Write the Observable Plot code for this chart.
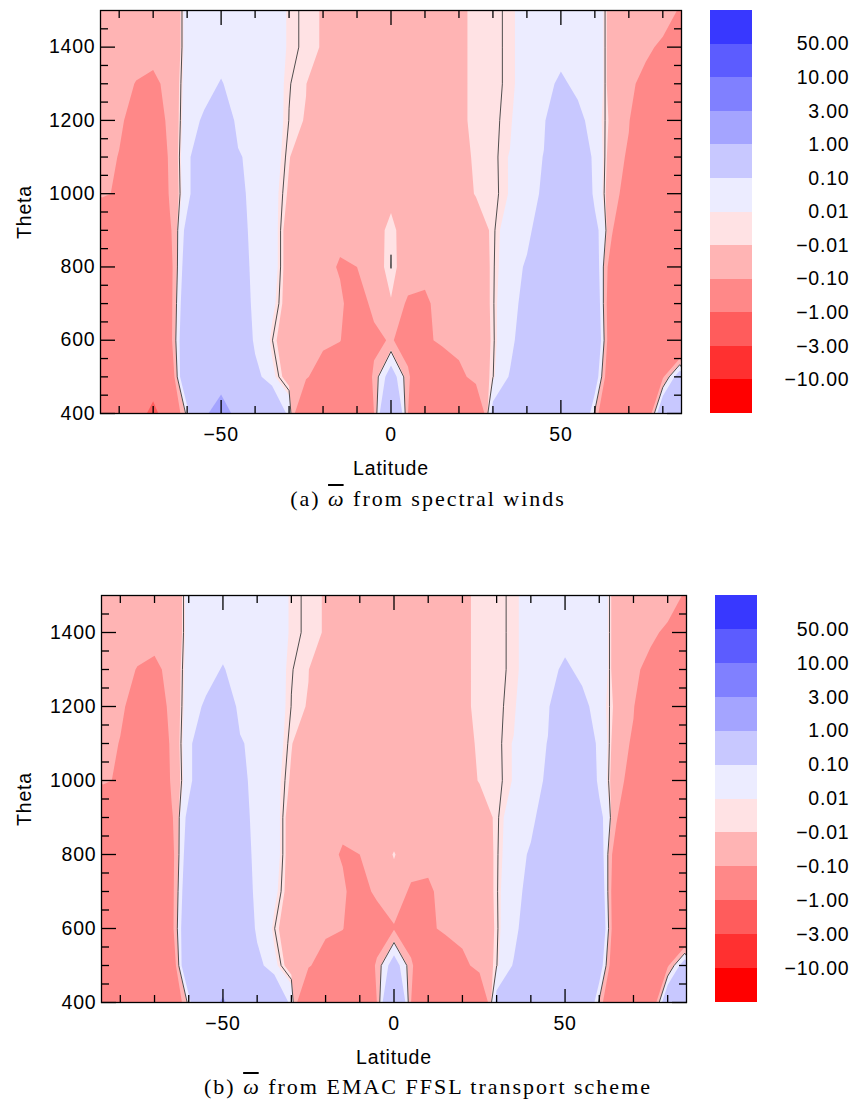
<!DOCTYPE html>
<html>
<head>
<meta charset="utf-8">
<script src="https://cdn.jsdelivr.net/npm/d3@7"></script>
<script src="https://cdn.jsdelivr.net/npm/@observablehq/plot@0.6"></script>
<style>
  html, body { margin: 0; padding: 0; background: #fff; }
  body { width: 856px; height: 1102px; position: relative; overflow: hidden; }
  .box { position: absolute; }
  .cap { position: absolute; left: 0; width: 856px; text-align: center; font-family: "Liberation Serif", "Times New Roman", serif; font-size: 22px; letter-spacing: 2px; line-height: 24px; color: #000; }
  .om { font-style: italic; text-decoration: overline; letter-spacing: 0; margin-right: 2px; }
</style>
</head>
<body>
<div id="plotA" class="box" style="left:0;top:0"></div>
<div id="barA" class="box" style="left:700px;top:0"></div>
<div class="cap" style="top:487px">(a) <span class="om">ω</span> from spectral winds</div>
<div id="plotB" class="box" style="left:0;top:585px"></div>
<div id="barB" class="box" style="left:700px;top:585px"></div>
<div class="cap" style="top:1075px">(b) <span class="om">ω</span> from EMAC FFSL transport scheme</div>
<script>
// ---------- data ----------
const latitudes = [-85,-80,-75,-70,-65,-60,-55,-50,-45,-40,-35,-30,-25,-20,-15,-10,-5,0,5,10,15,20,25,30,35,40,45,50,55,60,65,70,75,80,85];
const thetaLevels = [1500,1400,1300,1200,1100,1000,900,800,700,600,500,400];

// (a) omega from spectral winds, one row per theta level (top to bottom), columns = latitudes
const omegaSpectral = [
  [-0.05,-0.05,-0.05,-0.05,-0.08,0.035,0.04,0.04,0.04,0.04,0.04,0.004,-0.003,-0.012,-0.04,-0.04,-0.04,-0.04,-0.04,-0.04,-0.04,-0.015,-0.005,-0.002,0.0016,0.03,0.04,0.04,0.04,0.06,-0.04,-0.05,-0.05,-0.05,-0.11],
  [-0.05,-0.05,-0.05,-0.05,-0.08,0.035,0.04,0.04,0.04,0.04,0.04,0.004,-0.003,-0.012,-0.04,-0.04,-0.04,-0.04,-0.04,-0.04,-0.04,-0.015,-0.005,-0.002,0.0016,0.03,0.04,0.04,0.04,0.06,-0.04,-0.05,-0.08,-0.12,-0.3],
  [-0.06,-0.06,-0.105,-0.13,-0.06,0.035,0.05,0.11,0.04,0.04,0.03,0.001,-0.009,-0.05,-0.04,-0.04,-0.04,-0.04,-0.04,-0.04,-0.04,-0.015,-0.005,-0.002,0.0016,0.03,0.05,0.13,0.06,0.06,-0.04,-0.08,-0.13,-0.3,-0.4],
  [-0.05,-0.08,-0.15,-0.2,-0.06,0.04,0.12,0.3,0.04,0.04,0.03,-0.0005,-0.012,-0.04,-0.04,-0.04,-0.04,-0.04,-0.04,-0.04,-0.04,-0.015,-0.005,-0.002,0.003,0.06,0.08,0.3,0.15,0.03,-0.02,-0.09,-0.3,-0.35,-0.4],
  [-0.06,-0.105,-0.35,-0.35,-0.06,0.05,0.3,0.4,0.12,0.04,0.03,-0.008,-0.04,-0.04,-0.04,-0.04,-0.04,-0.04,-0.04,-0.04,-0.04,-0.02,-0.006,-0.005,0.012,0.04,0.105,0.4,0.3,0.05,-0.035,-0.12,-0.35,-0.4,-0.4],
  [-0.07,-0.13,-0.4,-0.4,-0.07,0.05,0.3,0.4,0.15,0.04,0.025,-0.015,-0.04,-0.04,-0.04,-0.04,-0.03,-0.02,-0.03,-0.04,-0.04,-0.025,-0.008,-0.006,0.012,0.05,0.12,0.4,0.35,0.06,-0.05,-0.16,-0.4,-0.4,-0.4],
  [-0.35,-0.4,-0.4,-0.4,-0.12,0.15,0.4,0.45,0.18,0.04,0.03,-0.03,-0.04,-0.05,-0.06,-0.05,-0.025,-0.001,-0.03,-0.04,-0.04,-0.04,-0.03,-0.004,0.03,0.06,0.2,0.4,0.4,0.15,-0.08,-0.4,-0.4,-0.4,-0.4],
  [-0.4,-0.4,-0.4,-0.4,-0.15,0.2,0.4,0.45,0.2,0.05,0.03,-0.03,-0.05,-0.05,-0.115,-0.1,-0.025,0.0005,-0.03,-0.05,-0.04,-0.04,-0.04,-0.003,0.035,0.12,0.4,0.4,0.4,0.2,-0.2,-0.4,-0.4,-0.4,-0.4],
  [-0.4,-0.4,-0.4,-0.4,-0.15,0.25,0.4,0.45,0.25,0.05,0.02,-0.03,-0.05,-0.05,-0.07,-0.2,-0.05,-0.012,-0.12,-0.13,-0.04,-0.04,-0.04,-0.003,0.05,0.15,0.4,0.4,0.4,0.25,-0.25,-0.4,-0.4,-0.4,-0.4],
  [-0.4,-0.4,-0.4,-0.4,-0.15,0.3,0.4,0.45,0.3,0.07,0.001,-0.04,-0.05,-0.06,-0.09,-0.3,-0.15,-0.08,-0.2,-0.15,-0.05,-0.04,-0.04,-0.005,0.06,0.2,0.4,0.4,0.4,0.3,-0.25,-0.4,-0.4,-0.4,-0.4],
  [-0.4,-0.4,-0.4,-0.4,-0.25,0.35,0.45,0.45,0.35,0.15,0.02,-0.03,-0.08,-0.2,-0.35,-0.4,-0.06,0.18,-0.06,-0.4,-0.35,-0.15,-0.04,-0.002,0.11,0.35,0.4,0.4,0.4,0.2,-0.3,-0.4,-0.4,-0.12,0.2],
  [-0.4,-0.4,-0.5,-1.3,-0.3,0.03,0.8,1.6,0.6,0.4,0.35,0.05,-0.4,-0.45,-0.5,-0.5,-0.1,0.5,-0.1,-0.5,-0.5,-0.45,-0.35,0.15,0.4,0.4,0.4,0.4,0.4,-0.02,-0.4,-0.4,-0.3,0.3,0.4]
];

// (b) omega from EMAC FFSL transport scheme
const omegaFFSL = [
  [-0.05,-0.05,-0.05,-0.05,-0.08,0.035,0.04,0.04,0.04,0.04,0.04,0.004,-0.003,-0.012,-0.04,-0.04,-0.04,-0.04,-0.04,-0.04,-0.04,-0.015,-0.005,-0.002,0.0016,0.03,0.04,0.04,0.04,0.06,-0.04,-0.05,-0.05,-0.05,-0.11],
  [-0.05,-0.05,-0.05,-0.05,-0.08,0.035,0.04,0.04,0.04,0.04,0.04,0.004,-0.003,-0.012,-0.04,-0.04,-0.04,-0.04,-0.04,-0.04,-0.04,-0.015,-0.005,-0.002,0.0016,0.03,0.04,0.04,0.04,0.06,-0.04,-0.05,-0.08,-0.12,-0.3],
  [-0.06,-0.06,-0.105,-0.13,-0.06,0.035,0.05,0.11,0.04,0.04,0.03,0.001,-0.009,-0.05,-0.04,-0.04,-0.04,-0.04,-0.04,-0.04,-0.04,-0.015,-0.005,-0.002,0.0016,0.03,0.05,0.13,0.06,0.06,-0.04,-0.08,-0.13,-0.3,-0.4],
  [-0.05,-0.08,-0.15,-0.2,-0.06,0.04,0.12,0.3,0.04,0.04,0.03,-0.0005,-0.012,-0.04,-0.04,-0.04,-0.04,-0.04,-0.04,-0.04,-0.04,-0.015,-0.005,-0.002,0.003,0.06,0.08,0.3,0.15,0.03,-0.02,-0.09,-0.3,-0.35,-0.4],
  [-0.06,-0.105,-0.35,-0.35,-0.06,0.05,0.3,0.4,0.12,0.04,0.03,-0.008,-0.04,-0.04,-0.04,-0.04,-0.04,-0.04,-0.04,-0.04,-0.04,-0.02,-0.006,-0.005,0.012,0.04,0.105,0.4,0.3,0.05,-0.035,-0.12,-0.35,-0.4,-0.4],
  [-0.07,-0.13,-0.4,-0.4,-0.07,0.05,0.3,0.4,0.15,0.04,0.025,-0.015,-0.04,-0.04,-0.04,-0.04,-0.04,-0.04,-0.04,-0.04,-0.04,-0.025,-0.008,-0.006,0.012,0.05,0.12,0.4,0.35,0.06,-0.05,-0.16,-0.4,-0.4,-0.4],
  [-0.35,-0.4,-0.4,-0.4,-0.12,0.15,0.4,0.45,0.18,0.04,0.03,-0.03,-0.04,-0.05,-0.06,-0.05,-0.04,-0.04,-0.04,-0.04,-0.04,-0.04,-0.03,-0.004,0.03,0.06,0.2,0.4,0.4,0.15,-0.08,-0.4,-0.4,-0.4,-0.4],
  [-0.4,-0.4,-0.4,-0.4,-0.15,0.2,0.4,0.45,0.2,0.05,0.03,-0.03,-0.05,-0.05,-0.115,-0.1,-0.04,-0.007,-0.04,-0.05,-0.04,-0.04,-0.04,-0.003,0.035,0.12,0.4,0.4,0.4,0.2,-0.2,-0.4,-0.4,-0.4,-0.4],
  [-0.4,-0.4,-0.4,-0.4,-0.15,0.25,0.4,0.45,0.25,0.05,0.02,-0.03,-0.05,-0.05,-0.07,-0.2,-0.05,-0.03,-0.12,-0.13,-0.04,-0.04,-0.04,-0.003,0.05,0.15,0.4,0.4,0.4,0.25,-0.25,-0.4,-0.4,-0.4,-0.4],
  [-0.4,-0.4,-0.4,-0.4,-0.15,0.3,0.4,0.45,0.3,0.07,0.001,-0.04,-0.05,-0.06,-0.09,-0.3,-0.25,-0.11,-0.25,-0.15,-0.05,-0.04,-0.04,-0.005,0.06,0.2,0.4,0.4,0.4,0.3,-0.25,-0.4,-0.4,-0.4,-0.4],
  [-0.4,-0.4,-0.4,-0.4,-0.25,0.35,0.45,0.45,0.35,0.15,0.02,-0.03,-0.08,-0.2,-0.35,-0.4,-0.06,0.18,-0.06,-0.4,-0.35,-0.15,-0.04,-0.002,0.11,0.35,0.4,0.4,0.4,0.2,-0.3,-0.4,-0.4,-0.12,0.2],
  [-0.4,-0.4,-0.5,-0.6,-0.3,0.03,0.6,1.1,0.5,0.4,0.35,0.05,-0.4,-0.45,-0.5,-0.5,-0.1,0.5,-0.1,-0.5,-0.5,-0.45,-0.35,0.15,0.4,0.4,0.4,0.4,0.4,-0.02,-0.4,-0.4,-0.3,0.3,0.4]
];

const contourLevels = [-10, -3, -1, -0.1, -0.01, 0.01, 0.1, 1, 3, 10, 50];
const bandColors = ["#ff0000","#ff3030","#ff5c5c","#ff8888","#ffb4b4","#ffe2e4","#ececff","#c8c8ff","#a4a4ff","#8080ff","#5c5cff","#3838ff"];
const colorbarLabels = ["\u221210.00","\u22123.00","\u22121.00","\u22120.10","\u22120.01","0.01","0.10","1.00","3.00","10.00","50.00"];
const xMajorTicks = [-50, 0, 50];
const xMinorTicks = [-80,-70,-60,-40,-30,-20,-10,10,20,30,40,60,70,80];
const yMajorTicks = [400, 600, 800, 1000, 1200, 1400];
const yMinorTicks = [450,500,550,650,700,750,850,900,950,1050,1100,1150,1250,1300,1350,1450];

// ---------- drawing ----------
const fontFamily = "'Liberation Sans', Arial, Helvetica, sans-serif";
const textStyle = {fontFamily, fontSize: "19.5px", letterSpacing: "0.8px", color: "#000", background: "transparent", overflow: "visible"};

function gridOptions() {
  const dLat = latitudes[1] - latitudes[0];
  const th = thetaLevels.slice().sort((a, b) => a - b);
  const dTh = th[1] - th[0];
  return {
    width: latitudes.length, height: thetaLevels.length,
    x1: latitudes[0] - dLat / 2, x2: latitudes[latitudes.length - 1] + dLat / 2,
    y1: th[0] - dTh / 2, y2: th[th.length - 1] + dTh / 2
  };
}
// rows are stored top (highest theta) first; the grid starts at the lowest theta
function flatten(rows) { return rows.slice().reverse().flat(); }

function contourPanel(rows, {width, height, marginLeft, marginRight, marginTop, marginBottom, yLabelOffset}) {
  const values = flatten(rows);
  const g = gridOptions();
  const fmt = d3.format("d");
  const tick = {fill: "none", label: null, strokeWidth: 1.3};
  return Plot.plot({
    width, height, marginLeft, marginRight, marginTop, marginBottom,
    style: textStyle,
    x: {domain: [-85.5, 85.5]},
    y: {domain: [400, 1500]},
    color: {type: "threshold", domain: contourLevels, range: bandColors},
    marks: [
      Plot.contour(values, {...g, fill: Plot.identity, stroke: "none", thresholds: [-1000, ...contourLevels], clip: true}),
      Plot.contour(values, {...g, thresholds: [0], fill: "none", stroke: "#3c3c3c", strokeWidth: 0.9, clip: true}),
      Plot.frame({stroke: "#000", strokeWidth: 1.3}),
      Plot.axisX({anchor: "bottom", ticks: xMajorTicks, tickSize: 0, tickPadding: 14, tickFormat: fmt,
        label: "Latitude", labelAnchor: "center", labelArrow: "none", labelOffset: 61}),
      Plot.axisX({anchor: "bottom", ticks: xMajorTicks, tickSize: -13, ...tick}),
      Plot.axisX({anchor: "bottom", ticks: xMinorTicks, tickSize: -7, ...tick}),
      Plot.axisX({anchor: "top", ticks: xMajorTicks, tickSize: -14, ...tick}),
      Plot.axisX({anchor: "top", ticks: xMinorTicks, tickSize: -7, ...tick}),
      Plot.axisY({anchor: "left", ticks: yMajorTicks, tickSize: 0, tickPadding: 5, tickFormat: fmt,
        label: "Theta", labelAnchor: "center", labelArrow: "none", labelOffset: yLabelOffset}),
      Plot.axisY({anchor: "left", ticks: yMajorTicks, tickSize: -15, ...tick}),
      Plot.axisY({anchor: "left", ticks: yMinorTicks, tickSize: -8, ...tick}),
      Plot.axisY({anchor: "right", ticks: yMajorTicks, tickSize: -15, ...tick}),
      Plot.axisY({anchor: "right", ticks: yMinorTicks, tickSize: -8, ...tick})
    ]
  });
}

function colorbar({height, marginTop, marginBottom, marginLeft, labelDx}) {
  const bands = bandColors.map((color, i) => ({i, color}));
  const labels = colorbarLabels.map((t, i) => ({t, i: i + 1}));
  return Plot.plot({
    width: 156, height, marginTop, marginBottom, marginLeft, marginRight: 156 - marginLeft - 42,
    style: textStyle,
    x: {domain: [0, 1], axis: null},
    y: {domain: [0, bandColors.length], axis: null},
    marks: [
      Plot.rect(bands, {x1: 0, x2: 1, y1: "i", y2: d => d.i + 1, fill: "color", shapeRendering: "crispEdges"}),
      Plot.text(labels, {x: 1, y: "i", text: "t", textAnchor: "end", dx: labelDx, fontSize: 19.5})
    ]
  });
}

document.getElementById("plotA").append(contourPanel(omegaSpectral, {
  width: 700, height: 480, marginLeft: 100, marginRight: 19, marginTop: 10, marginBottom: 67, yLabelOffset: 83
}));
document.getElementById("barA").append(colorbar({height: 480, marginTop: 10, marginBottom: 67, marginLeft: 10, labelDx: 97}));

document.getElementById("plotB").append(contourPanel(omegaFFSL, {
  width: 706, height: 484, marginLeft: 101, marginRight: 20, marginTop: 10, marginBottom: 67, yLabelOffset: 84
}));
document.getElementById("barB").append(colorbar({height: 484, marginTop: 10, marginBottom: 67, marginLeft: 15, labelDx: 92}));
</script>
</body>
</html>
